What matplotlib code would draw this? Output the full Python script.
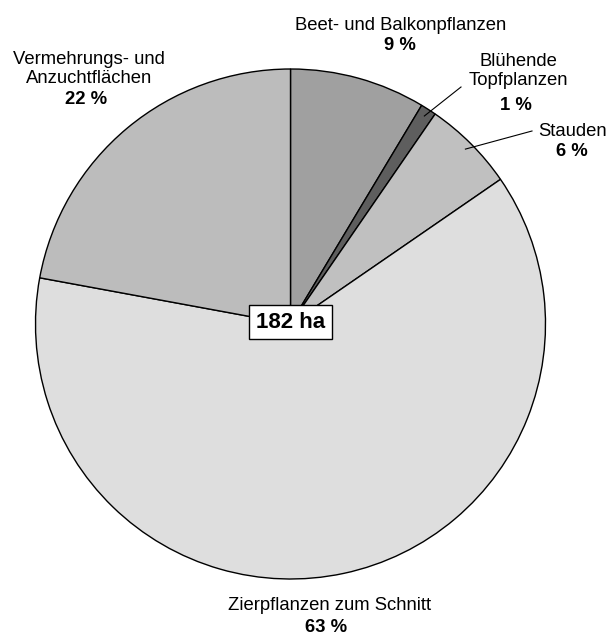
import numpy as np
import matplotlib.pyplot as plt

# Flächenanteile (%) - Zierpflanzen, 182 ha gesamt
kategorien = ["Beet- und Balkonpflanzen", "Blühende\nTopfplanzen", "Stauden",
              "Zierpflanzen zum Schnitt", "Vermehrungs- und\nAnzuchtflächen"]
anteile = [8.6, 1.0, 5.8, 62.5, 22.1]
prozent_labels = ["9 %", "1 %", "6 %", "63 %", "22 %"]
farben = ["#a0a0a0", "#5e5e5e", "#c0c0c0", "#dedede", "#bcbcbc"]
gesamt = "182 ha"

W, H = 611, 637
fig = plt.figure(figsize=(W / 100, H / 100), dpi=100)
ax = fig.add_axes([0, 0, 1, 1])

cx, cy, r = 290.5, H - 324, 255
ax.pie(anteile, colors=farben, startangle=90, counterclock=False,
       center=(cx, cy), radius=r,
       wedgeprops=dict(edgecolor="black", linewidth=1.0))
ax.set_xlim(0, W)
ax.set_ylim(0, H)
ax.set_aspect("equal")
ax.axis("off")

plt.rcParams["font.family"] = ["Liberation Sans", "DejaVu Sans"]
fs = 13.3

# Beschriftungen (Name, Prozent) in Pixelkoordinaten (y von oben)
name_pos = [(401, 25), (518, 71), (573, 131), (330, 606), (89, 69)]
pct_pos = [(400, 46), (516, 105), (572, 152), (326, 628), (86, 100)]
for i in range(len(kategorien)):
    nx, ny = name_pos[i]
    ax.text(nx, H - ny, kategorien[i], ha="center", va="center",
            fontsize=fs, linespacing=1.2)
    px, py = pct_pos[i]
    ax.text(px, H - py, prozent_labels[i], ha="center", va="center",
            fontsize=fs, fontweight="bold")

# Hinweislinien für die kleinen Segmente
cum = np.cumsum([0] + anteile)
ziele = {1: (461, 87), 2: (532, 131)}
for i, (ex, ey) in ziele.items():
    mitte = (cum[i] + cum[i + 1]) / 2 / 100 * 2 * np.pi
    sx = cx + 0.97 * r * np.sin(mitte)
    sy = cy + 0.97 * r * np.cos(mitte)
    ax.plot([sx, ex], [sy, H - ey], color="black", linewidth=0.8)

ax.text(cx, H - 322, gesamt, ha="center", va="center", fontsize=16,
        fontweight="bold",
        bbox=dict(boxstyle="square,pad=0.3", facecolor="white",
                  edgecolor="black", linewidth=1.0))

fig.savefig("out.png", dpi=100)
